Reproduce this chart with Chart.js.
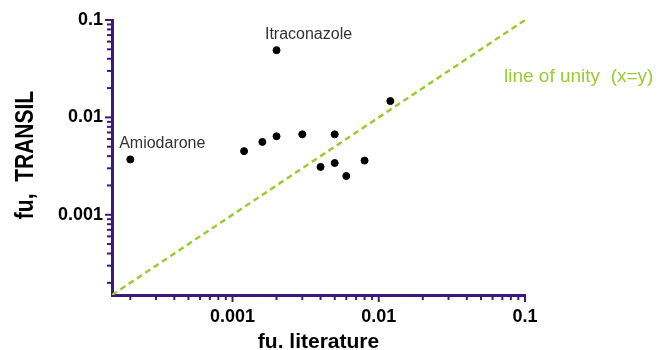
<!DOCTYPE html>
<html>
<head>
<meta charset="utf-8">
<script src="https://cdn.jsdelivr.net/npm/chart.js@4/dist/chart.umd.min.js"></script>
<style>
  html, body { margin: 0; padding: 0; background: #fff; }
  #wrap { width: 658px; height: 350px; }
</style>
</head>
<body>
<div id="wrap"><canvas id="fuChart"></canvas></div>
<script>
// fu literature vs fu TRANSIL
var fuLiterature = [0.0002, 0.002, 0.0012, 0.0016, 0.002, 0.003, 0.005, 0.005, 0.004, 0.006, 0.008, 0.012];
var fuTransil    = [0.0037, 0.049, 0.0045, 0.0056, 0.0064, 0.0067, 0.0067, 0.0034, 0.0031, 0.0025, 0.0036, 0.0147];
var drugNames    = ['Amiodarone', 'Itraconazole', '', '', '', '', '', '', '', '', '', ''];
var axisMin = 0.00015, axisMax = 0.1;
var unityLine = [axisMin, axisMax];
var tickLabels = [0.001, 0.01, 0.1];
var tickValues = [];
[0.0001, 0.001, 0.01].forEach(function (d) {
  for (var k = 1; k <= 9; k++) {
    var v = +(d * k).toPrecision(3);
    if (v >= axisMin) tickValues.push(v);
  }
});
tickValues.push(0.1);

var axisColor = '#3c1a7c';
var green = '#99cc33';
var font = 'Liberation Sans, Arial, sans-serif';

function isLabelled(v) {
  return tickLabels.some(function (t) { return Math.abs(v - t) / t < 1e-6; });
}

var tickMarks = {
  id: 'tickMarks',
  afterDraw: function (chart) {
    var ctx = chart.ctx, a = chart.chartArea;
    ctx.save();
    ctx.strokeStyle = axisColor;
    ctx.lineWidth = 2;
    chart.scales.x.ticks.forEach(function (t) {
      var px = chart.scales.x.getPixelForValue(t.value);
      var len = isLabelled(t.value) ? 7 : 5;
      ctx.beginPath();
      ctx.moveTo(px, a.bottom);
      ctx.lineTo(px, a.bottom + len);
      ctx.stroke();
    });
    chart.scales.y.ticks.forEach(function (t) {
      var py = chart.scales.y.getPixelForValue(t.value);
      var len = isLabelled(t.value) ? 7 : 5;
      ctx.beginPath();
      ctx.moveTo(a.left, py);
      ctx.lineTo(a.left - len, py);
      ctx.stroke();
    });
    // y title, drawn a bit taller than wide like the original
    ctx.translate(32.5, 155);
    ctx.rotate(-Math.PI / 2);
    ctx.scale(1, 1.25);
    ctx.font = 'bold 21px ' + font;
    ctx.fillStyle = '#000';
    ctx.textAlign = 'center';
    ctx.textBaseline = 'alphabetic';
    ctx.fillText('fu,  TRANSIL', 0, 0);
    ctx.restore();
  }
};

var notes = {
  id: 'notes',
  afterDatasetsDraw: function (chart) {
    var ctx = chart.ctx, a = chart.chartArea;
    var xs = chart.scales.x, ys = chart.scales.y;
    ctx.save();
    ctx.font = '16px ' + font;
    ctx.fillStyle = '#333';
    ctx.textAlign = 'center';
    ctx.textBaseline = 'middle';
    drugNames.forEach(function (name, i) {
      if (!name) return;
      var px = xs.getPixelForValue(fuLiterature[i]);
      var py = ys.getPixelForValue(fuTransil[i]);
      ctx.fillText(name, px + 32, py - 16);
    });
    ctx.font = '19px ' + font;
    ctx.fillStyle = green;
    ctx.textAlign = 'left';
    ctx.fillText('line of unity  (x=y)', a.right - 21, 77);
    ctx.restore();
  }
};

new Chart(document.getElementById('fuChart'), {
  type: 'scatter',
  data: {
    datasets: [{
      label: 'fu',
      data: fuLiterature.map(function (x, i) { return { x: x, y: fuTransil[i] }; }),
      backgroundColor: '#000',
      borderColor: '#000',
      pointRadius: 3.5,
      pointHoverRadius: 3.5,
      order: 0
    }, {
      label: 'unity',
      data: unityLine.map(function (v) { return { x: v, y: v }; }),
      showLine: true,
      borderColor: green,
      borderWidth: 2.5,
      borderDash: [6, 4],
      pointRadius: 0,
      order: 1
    }]
  },
  plugins: [tickMarks, notes],
  options: {
    responsive: true,
    maintainAspectRatio: false,
    animation: false,
    layout: { padding: { left: 0, right: 133, top: 20, bottom: 0 } },
    plugins: { legend: { display: false }, tooltip: { enabled: false } },
    scales: {
      x: {
        type: 'logarithmic',
        min: axisMin,
        max: axisMax,
        afterBuildTicks: function (s) { s.ticks = tickValues.map(function (v) { return { value: v }; }); },
        afterFit: function (s) { s.height = 55; },
        grid: { display: false, drawTicks: false },
        border: { display: true, color: axisColor, width: 3 },
        ticks: {
          autoSkip: false,
          maxRotation: 0,
          padding: 11,
          color: '#000',
          font: { family: font, size: 18, weight: 'bold' },
          callback: function (v) { return isLabelled(v) ? String(v) : ''; }
        },
        title: {
          display: true,
          text: 'fu. literature',
          color: '#000',
          font: { family: font, size: 21, weight: 'bold', lineHeight: 1 },
          padding: { top: 0, bottom: -3 }
        }
      },
      y: {
        type: 'logarithmic',
        min: axisMin,
        max: axisMax,
        afterBuildTicks: function (s) { s.ticks = tickValues.map(function (v) { return { value: v }; }); },
        afterFit: function (s) { s.width = 112; },
        grid: { display: false, drawTicks: false },
        border: { display: true, color: axisColor, width: 3 },
        ticks: {
          autoSkip: false,
          padding: 9,
          color: '#000',
          font: { family: font, size: 18, weight: 'bold' },
          callback: function (v) { return isLabelled(v) ? String(v) : ''; }
        },
        title: { display: false }
      }
    }
  }
});
</script>
</body>
</html>
